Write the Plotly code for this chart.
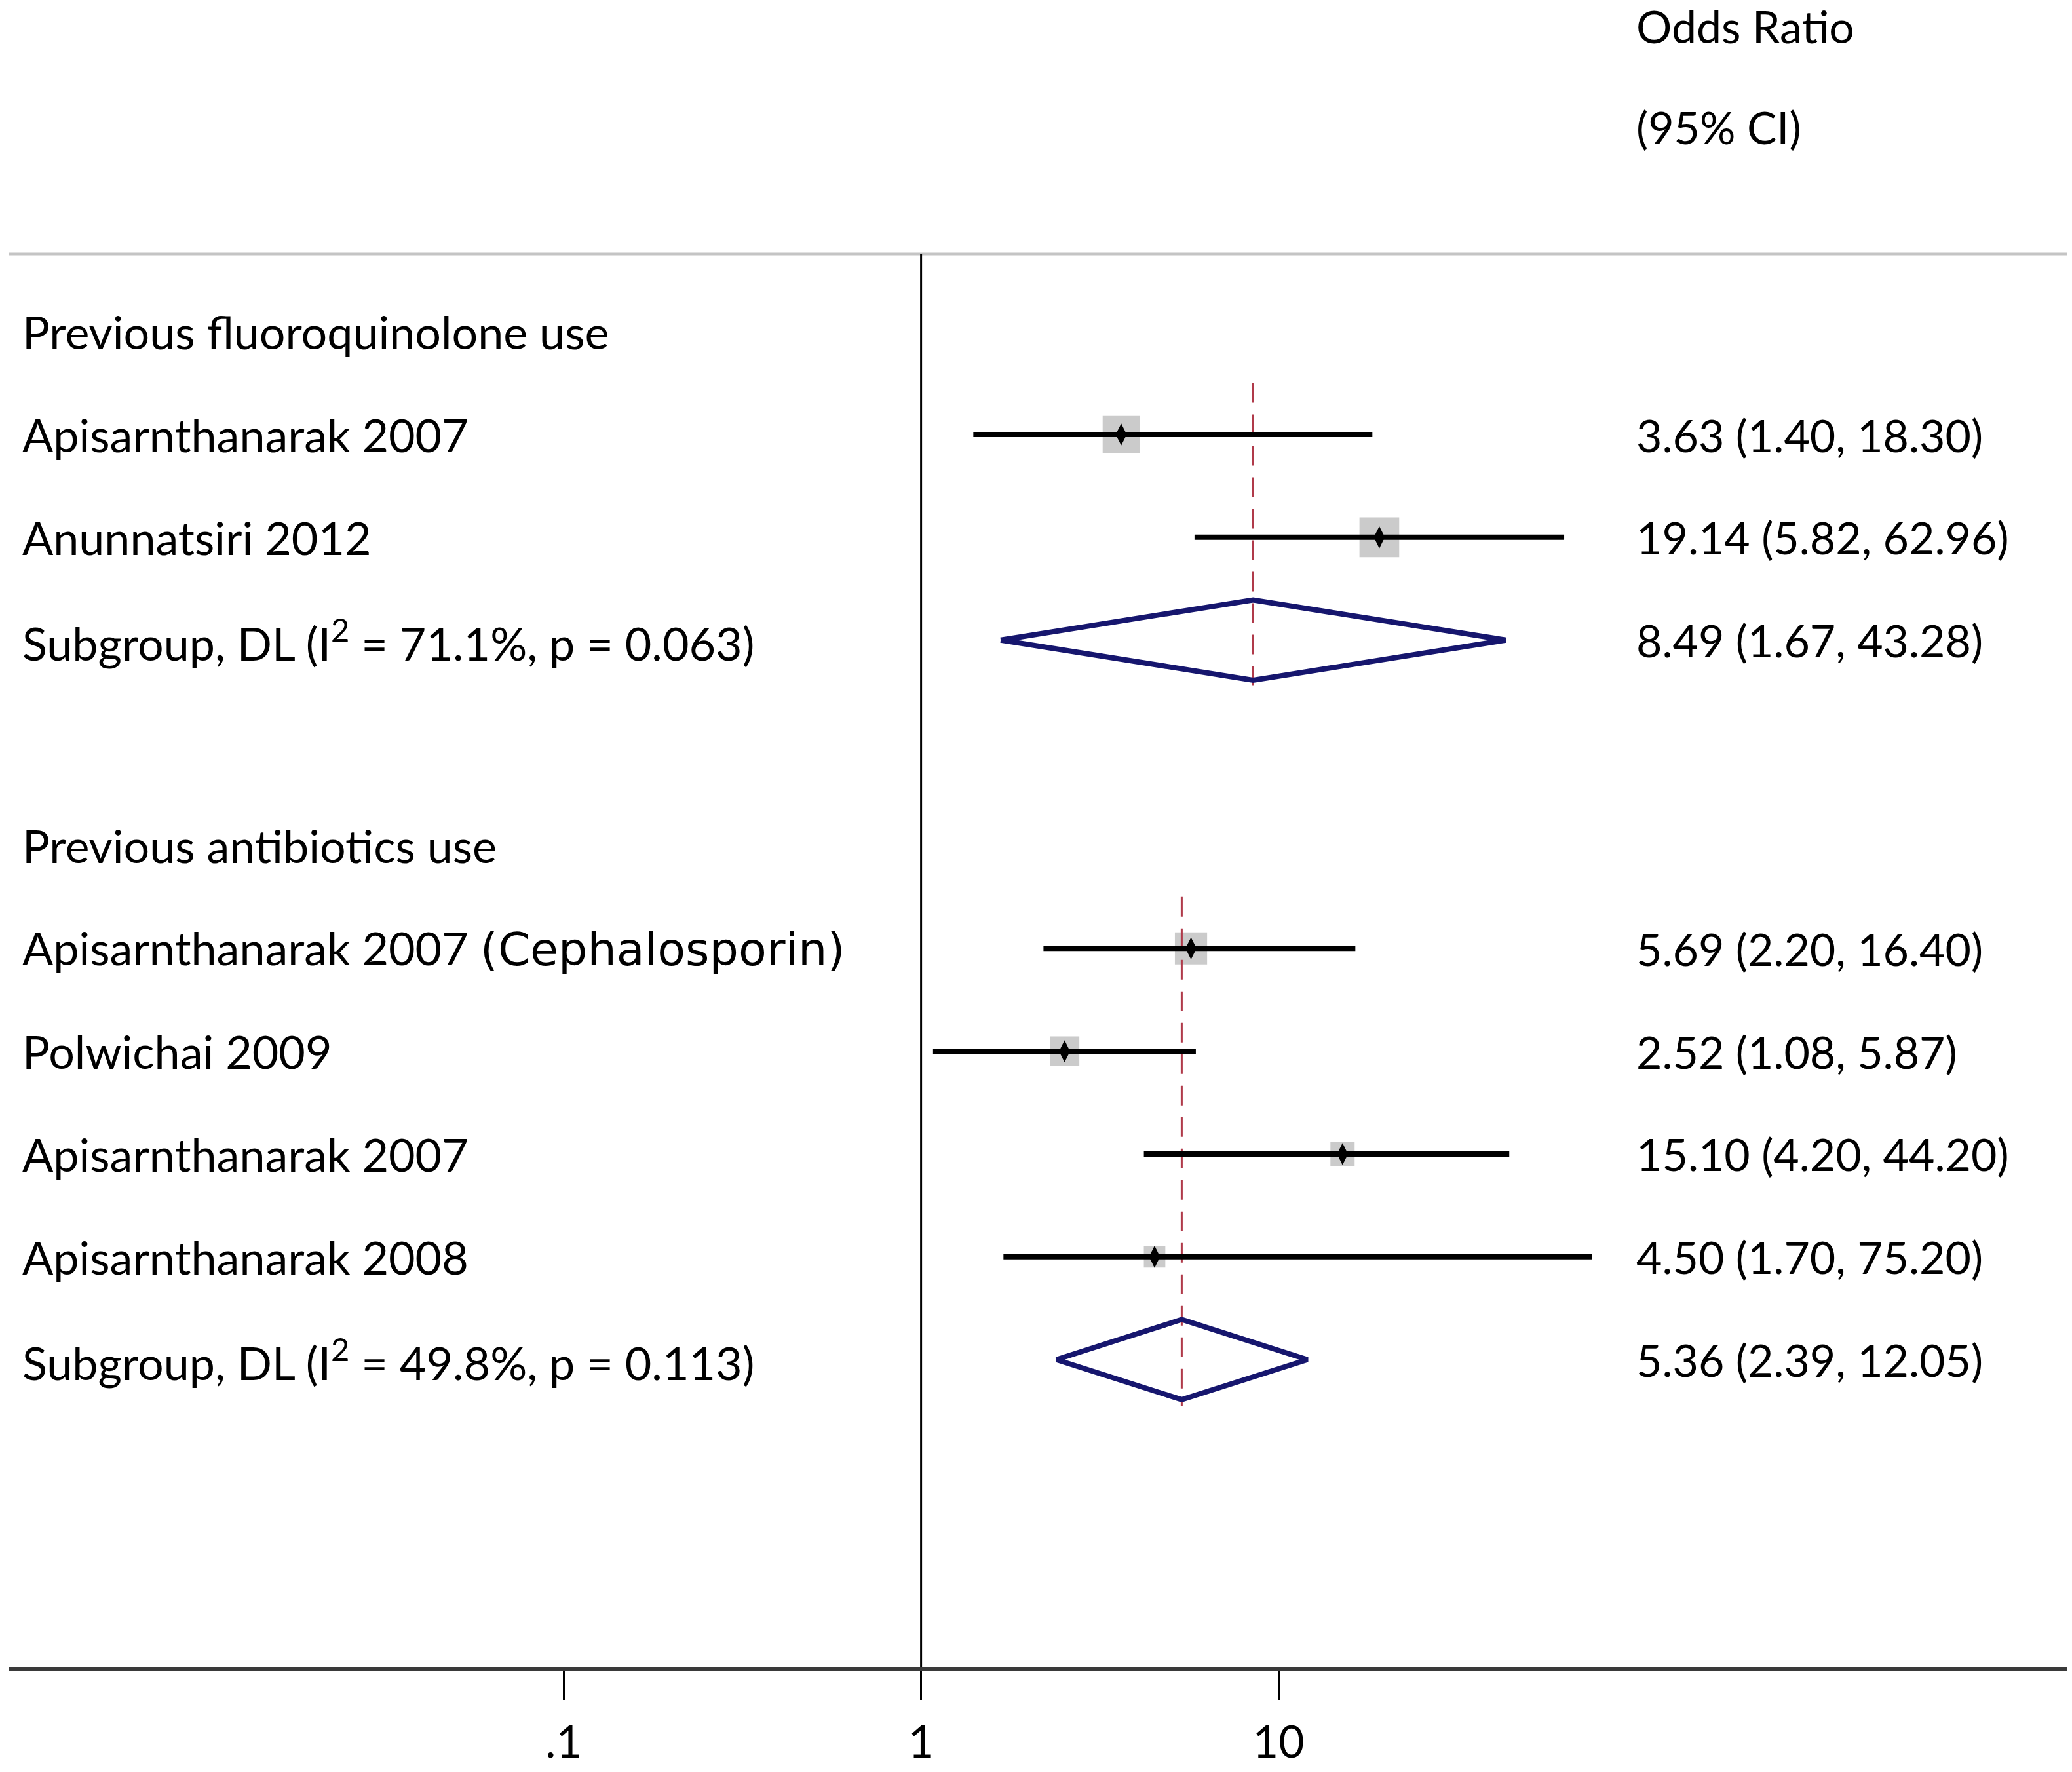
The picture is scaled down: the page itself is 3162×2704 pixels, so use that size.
import plotly.graph_objects as go

# ---------------- data ----------------
group_titles = ["Previous fluoroquinolone use", "Previous antibiotics use"]

study_names = ["Apisarnthanarak 2007", "Anunnatsiri 2012",
               "Apisarnthanarak 2007 (Cephalosporin)", "Polwichai 2009",
               "Apisarnthanarak 2007", "Apisarnthanarak 2008"]
study_group = [0, 0, 1, 1, 1, 1]
study_or = [3.63, 19.14, 5.69, 2.52, 15.10, 4.50]
study_lo = [1.40, 5.82, 2.20, 1.08, 4.20, 1.70]
study_hi = [18.30, 62.96, 16.40, 5.87, 44.20, 75.20]
study_weight = [46.6, 53.4, 35.1, 29.5, 19.8, 15.6]

sub_or = [8.49, 5.36]
sub_lo = [1.67, 2.39]
sub_hi = [43.28, 12.05]
sub_i2 = ["71.1", "49.8"]
sub_p = ["0.063", "0.113"]

null_value = 1
tick_vals = [0.1, 1, 10]
tick_text = [".1", "1", "10"]
header_lines = ["Odds Ratio", "(95% CI)"]

# ---------------- styles ----------------
FONT = "Lato"
FS_LEFT = 70
FS_RIGHT = 68
ALT_FONT = "DejaVu Sans"
BOX_COLOR = "#b5b5b5"
DIAMOND_COLOR = "#16166e"
REF_COLOR = "#b03a4a"
X_LEFT_TEXT = 0.0058
X_RIGHT_TEXT = 0.7902

# ---------------- row layout ----------------
rows = []  # (kind, index)
for g in range(len(group_titles)):
    if g > 0:
        rows.append(("blank", None))
    rows.append(("group", g))
    for i, sg in enumerate(study_group):
        if sg == g:
            rows.append(("study", i))
    rows.append(("sub", g))

row_of = {}
for r, (kind, idx) in enumerate(rows):
    row_of[(kind, idx)] = r

fig = go.Figure()
annotations = []


def fmt(o, l, h):
    return f"{o:.2f} ({l:.2f}, {h:.2f})"


def label_html(name):
    # the parenthetical note is set in a wider face in the reference
    if "(" in name:
        head, tail = name.split("(", 1)
        return f'{head}<span style="font-family:{ALT_FONT}">({tail}</span>'
    return name


study_rows = [row_of[("study", i)] for i in range(len(study_or))]

# weight boxes
box_sizes = [8.3 * (w ** 0.5) for w in study_weight]
fig.add_trace(go.Scatter(x=study_or, y=study_rows, mode="markers",
                         marker=dict(symbol="square", size=box_sizes, color=BOX_COLOR, line=dict(width=0)),
                         hoverinfo="skip", showlegend=False))

# group-level reference dashed lines
for g in range(len(group_titles)):
    first_study = min(row_of[("study", i)] for i, sg in enumerate(study_group) if sg == g)
    sr = row_of[("sub", g)]
    fig.add_trace(go.Scatter(x=[sub_or[g], sub_or[g]], y=[first_study - 0.5, sr + 0.45],
                             mode="lines", line=dict(color=REF_COLOR, width=3, dash="30px,18px"),
                             hoverinfo="skip", showlegend=False))

# CI lines
for i in range(len(study_or)):
    r = study_rows[i]
    fig.add_trace(go.Scatter(x=[study_lo[i], study_hi[i]], y=[r, r], mode="lines",
                             line=dict(color="black", width=8), hoverinfo="skip", showlegend=False))

# point estimates
fig.add_trace(go.Scatter(x=study_or, y=study_rows, mode="markers",
                         marker=dict(symbol="diamond-tall", size=24, color="black", line=dict(width=0)),
                         hoverinfo="skip", showlegend=False))

# subgroup diamonds
for g in range(len(group_titles)):
    r = row_of[("sub", g)]
    h = 0.39
    fig.add_trace(go.Scatter(x=[sub_lo[g], sub_or[g], sub_hi[g], sub_or[g], sub_lo[g]],
                             y=[r, r - h, r, r + h, r], mode="lines",
                             line=dict(color=DIAMOND_COLOR, width=8), hoverinfo="skip", showlegend=False))

# null line and top separator
top_sep = -0.757
y_bottom = 12.992
y_top = -3.176
fig.add_shape(type="line", xref="x", yref="y", x0=null_value, x1=null_value, y0=top_sep, y1=y_bottom,
              line=dict(color="black", width=3), layer="below")
fig.add_shape(type="line", xref="paper", yref="y", x0=0, x1=1, y0=top_sep, y1=top_sep,
              line=dict(color="#c4c4c4", width=4), layer="below")


# texts
def add_text(x, y, text, size):
    annotations.append(dict(x=x, y=y, xref="paper", yref="y", text=text, showarrow=False,
                            xanchor="left", yanchor="middle",
                            font=dict(family=FONT, size=size, color="black")))


for r, (kind, idx) in enumerate(rows):
    if kind == "group":
        add_text(X_LEFT_TEXT, r, group_titles[idx], FS_LEFT)
    elif kind == "study":
        add_text(X_LEFT_TEXT, r, label_html(study_names[idx]), FS_LEFT)
        add_text(X_RIGHT_TEXT, r, fmt(study_or[idx], study_lo[idx], study_hi[idx]), FS_RIGHT)
    elif kind == "sub":
        add_text(X_LEFT_TEXT, r, f"Subgroup, DL (I<sup>2</sup> = {sub_i2[idx]}%, p = {sub_p[idx]})", FS_LEFT)
        add_text(X_RIGHT_TEXT, r, fmt(sub_or[idx], sub_lo[idx], sub_hi[idx]), FS_RIGHT)

add_text(X_RIGHT_TEXT, -2.973, header_lines[0], FS_RIGHT)
add_text(X_RIGHT_TEXT, -1.992, header_lines[1], FS_RIGHT)

fig.update_layout(
    width=3146, height=2688,
    margin=dict(l=6, r=0, t=0, b=148, pad=0),
    paper_bgcolor="white", plot_bgcolor="white",
    showlegend=False,
    annotations=annotations,
    xaxis=dict(type="log", range=[-2.551, 3.205], showgrid=False, zeroline=False,
               showline=True, linecolor="#3a3a3a", linewidth=6,
               ticks="outside", ticklen=44, tickwidth=3, tickcolor="black",
               ticklabelstandoff=6,
               tickvals=tick_vals, ticktext=tick_text,
               tickfont=dict(family=FONT, size=FS_RIGHT, color="black")),
    yaxis=dict(range=[y_bottom, y_top], visible=False, showgrid=False, zeroline=False),
)

fig.write_html("out.html")
